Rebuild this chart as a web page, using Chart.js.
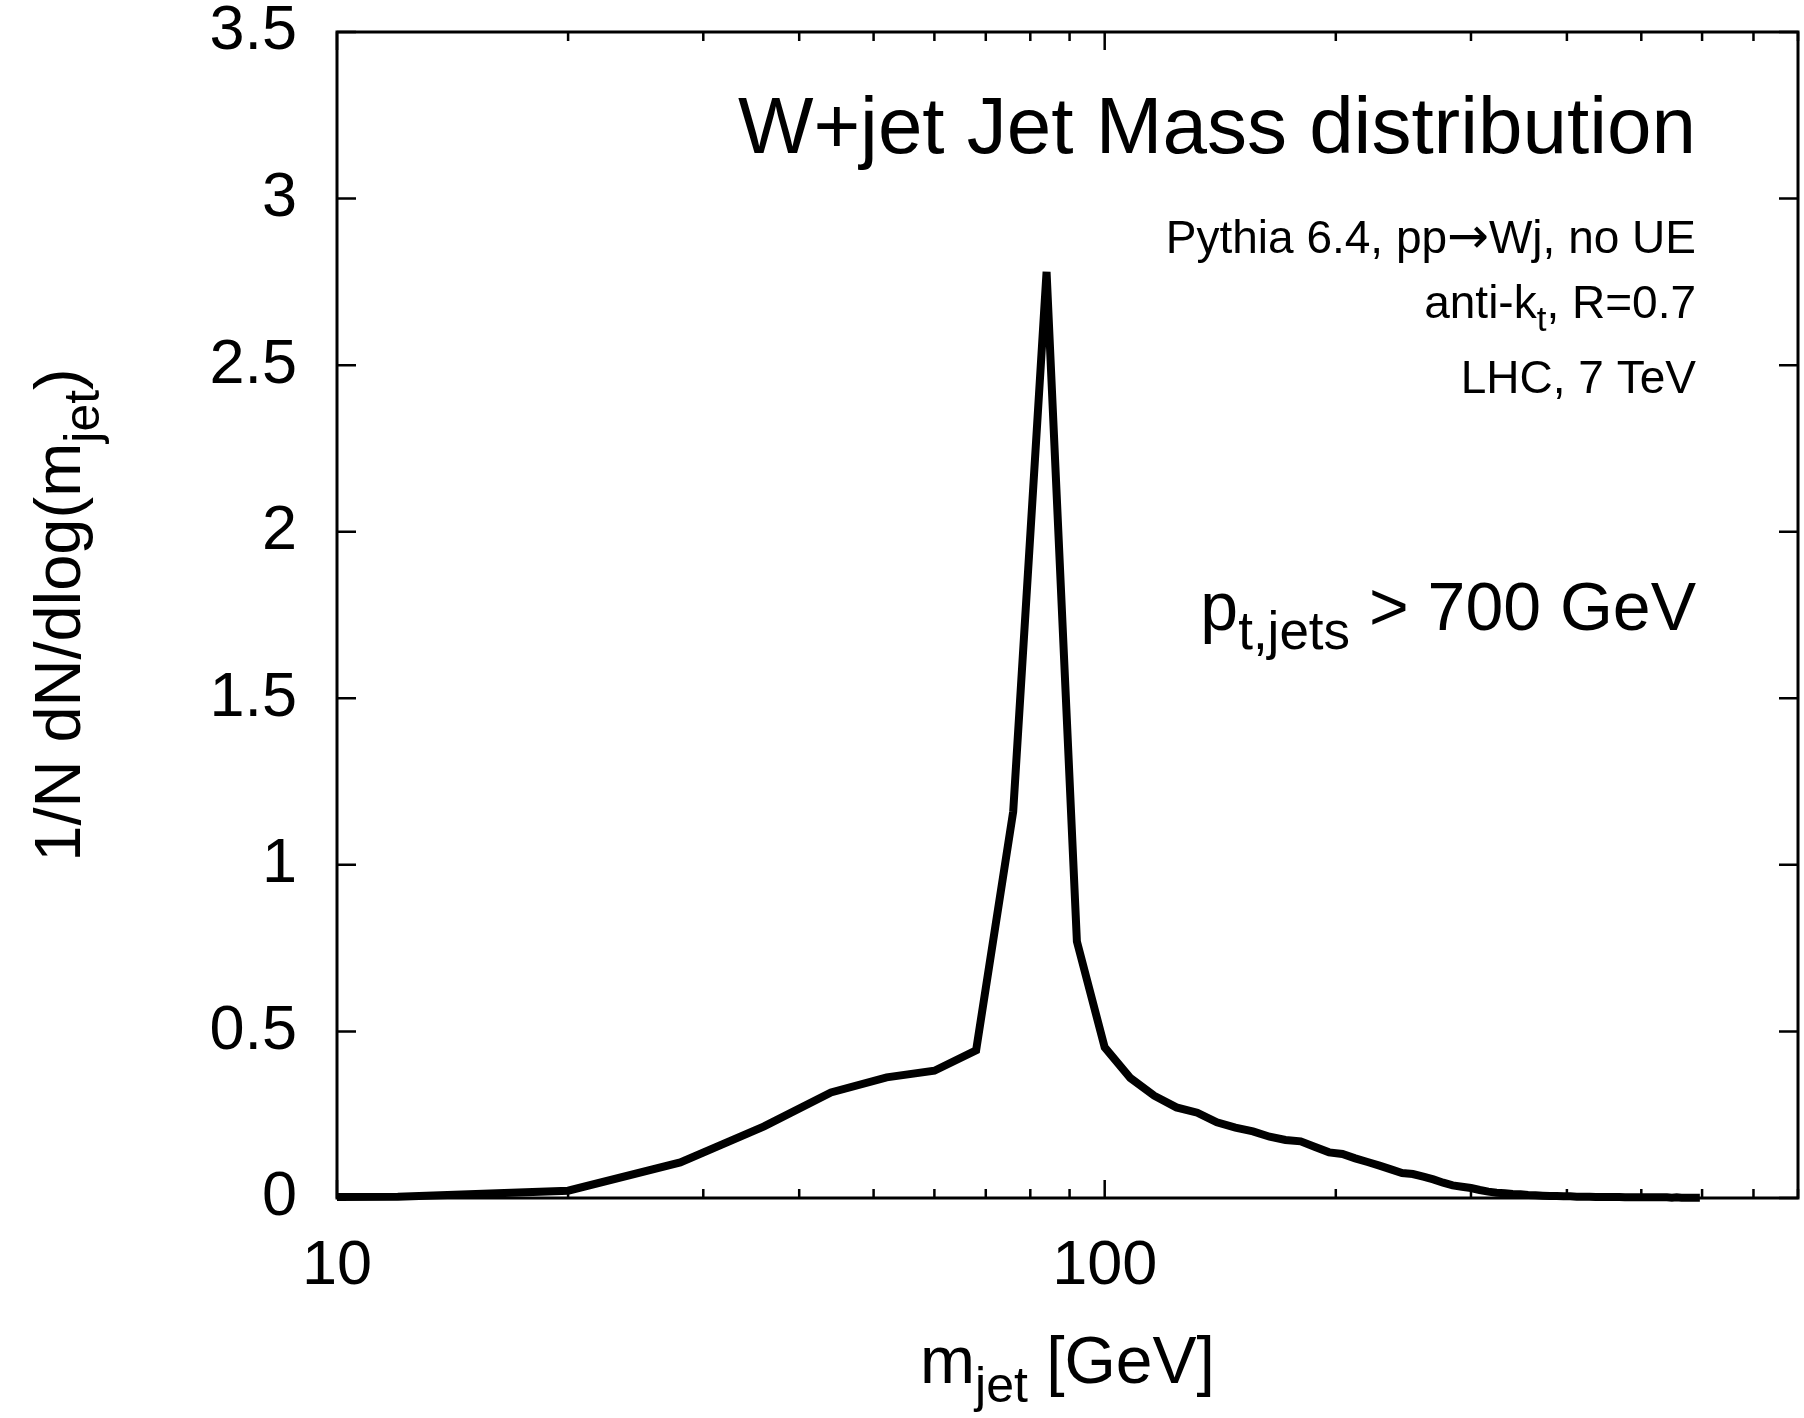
<!DOCTYPE html>
<html>
<head>
<meta charset="utf-8">
<title>W+jet Jet Mass distribution</title>
<script src="https://cdn.jsdelivr.net/npm/chart.js@4.4.1/dist/chart.umd.min.js"></script>
<style>
  html, body { margin: 0; padding: 0; background: #fff; }
  #massChart { display: block; }
</style>
</head>
<body>
<canvas id="massChart" width="1804" height="1418"></canvas>
<script>
// jet mass bin centres [GeV]
const massBins = [
    4, 12, 20, 28, 36, 44, 52, 60, 68, 76,
    84, 92, 100, 108, 116, 124, 132, 140, 148, 156,
    164, 172, 180, 188, 196, 204, 212, 220, 228, 236,
    244, 252, 260, 268, 276, 284, 292, 300, 308, 316,
    324, 332, 340, 348, 356, 364, 372, 380, 388, 396,
    404, 412, 420, 428, 436, 444, 452, 460, 468, 476,
    484, 492, 500, 508, 516, 524, 532, 540, 548, 556,
    564, 572, 580, 588, 596
];

// 1/N dN/dlog(m_jet)
const jetMassDist = [
    0.000, 0.004, 0.022, 0.107, 0.215, 0.317, 0.362, 0.382, 0.443, 1.160,
    2.780, 0.770, 0.452, 0.360, 0.307, 0.272, 0.256, 0.227, 0.211, 0.200,
    0.184, 0.174, 0.170, 0.153, 0.137, 0.132, 0.119, 0.108, 0.097, 0.086,
    0.075, 0.072, 0.064, 0.056, 0.046, 0.038, 0.034, 0.030, 0.024, 0.019,
    0.016, 0.014, 0.012, 0.011, 0.009, 0.008, 0.007, 0.006, 0.006, 0.005,
    0.005, 0.004, 0.004, 0.004, 0.003, 0.003, 0.003, 0.003, 0.003, 0.002,
    0.002, 0.002, 0.002, 0.002, 0.002, 0.002, 0.002, 0.002, 0.001, 0.002,
    0.001, 0.001, 0.001, 0.001, 0.001
];

const xTickValues = [10, 20, 30, 40, 50, 60, 70, 80, 90, 100, 200, 300, 400, 500, 600, 700, 800];
const xTickLabels = ['10', '', '', '', '', '', '', '', '', '100', '', '', '', '', '', '', ''];
const xMajorTicks = [10, 100];

const yTickValues = [0, 0.5, 1, 1.5, 2, 2.5, 3, 3.5];
const yTickLabels = ['0', '0.5', '1', '1.5', '2', '2.5', '3', '3.5'];

const FONT = '"Liberation Sans", Arial, Helvetica, sans-serif';
const ARROW_FONT = '"DejaVu Sans", sans-serif';

// draw a line of text made of runs (for subscripts), aligned around x
function drawRuns(ctx, runs, x, y, align) {
    let total = 0;
    runs.forEach(r => {
        ctx.font = r.size + 'px ' + (r.family || FONT);
        r.w = ctx.measureText(r.text).width;
        total += r.w;
    });
    let cx = align === 'right' ? x - total : (align === 'center' ? x - total / 2 : x);
    ctx.textAlign = 'left';
    ctx.textBaseline = 'alphabetic';
    runs.forEach(r => {
        ctx.font = r.size + 'px ' + (r.family || FONT);
        ctx.fillText(r.text, cx, y + (r.dy || 0));
        cx += r.w;
    });
}

const framePlugin = {
    id: 'frame',
    beforeDatasetsDraw(chart) {
        const { ctx, chartArea: a, scales } = chart;
        const xs = scales.x, ys = scales.y;
        ctx.save();
        ctx.strokeStyle = '#000';
        ctx.lineWidth = 3;
        ctx.strokeRect(a.left, a.top, a.right - a.left, a.bottom - a.top);

        // inward ticks on all four sides
        ctx.lineWidth = 2.5;
        ctx.beginPath();
        ys.ticks.forEach(t => {
            const py = ys.getPixelForValue(t.value);
            ctx.moveTo(a.left, py); ctx.lineTo(a.left + 19, py);
            ctx.moveTo(a.right, py); ctx.lineTo(a.right - 19, py);
        });
        xs.ticks.forEach(t => {
            const px = xs.getPixelForValue(t.value);
            const len = xMajorTicks.includes(t.value) ? 18 : 9;
            ctx.moveTo(px, a.bottom); ctx.lineTo(px, a.bottom - len);
            ctx.moveTo(px, a.top); ctx.lineTo(px, a.top + len);
        });
        ctx.stroke();
        ctx.restore();
    },
    afterDraw(chart) {
        const { ctx, chartArea: a } = chart;
        ctx.save();
        ctx.fillStyle = '#000';

        // axis titles
        drawRuns(ctx, [
            { text: 'm', size: 66 },
            { text: 'jet', size: 50, dy: 19 },
            { text: ' [GeV]', size: 66 }
        ], (a.left + a.right) / 2, 1383, 'center');

        ctx.save();
        ctx.translate(80, (a.top + a.bottom) / 2);
        ctx.rotate(-Math.PI / 2);
        drawRuns(ctx, [
            { text: '1/N dN/dlog(m', size: 65 },
            { text: 'jet', size: 50, dy: 19 },
            { text: ')', size: 65 }
        ], 0, 0, 'center');
        ctx.restore();

        // labels inside the frame
        const rx = 1696;
        drawRuns(ctx, [{ text: 'W+jet Jet Mass distribution', size: 80 }], rx, 153, 'right');
        drawRuns(ctx, [
            { text: 'Pythia 6.4, pp', size: 46 },
            { text: '\u2192', size: 50, family: ARROW_FONT },
            { text: 'Wj, no UE', size: 46 }
        ], rx, 253, 'right');
        drawRuns(ctx, [
            { text: 'anti-k', size: 46 },
            { text: 't', size: 35, dy: 13 },
            { text: ', R=0.7', size: 46 }
        ], rx, 318, 'right');
        drawRuns(ctx, [{ text: 'LHC, 7 TeV', size: 46 }], rx, 393, 'right');
        drawRuns(ctx, [
            { text: 'p', size: 68 },
            { text: 't,jets', size: 53, dy: 19 },
            { text: ' > 700 GeV', size: 68 }
        ], rx, 630, 'right');
        ctx.restore();
    }
};

new Chart(document.getElementById('massChart'), {
    type: 'line',
    data: {
        datasets: [{
            data: massBins.map((m, i) => ({ x: m, y: jetMassDist[i] })),
            borderColor: '#000',
            borderWidth: 8,
            pointRadius: 0,
            tension: 0,
            fill: false,
            clip: { left: 0, top: 8, right: 0, bottom: 8 }
        }]
    },
    options: {
        responsive: false,
        animation: false,
        events: [],
        layout: { padding: { top: 32, right: 6, left: 0, bottom: 0 } },
        plugins: {
            legend: { display: false },
            tooltip: { enabled: false }
        },
        scales: {
            x: {
                type: 'logarithmic',
                min: 10,
                max: 800,
                grid: { display: false, drawTicks: false },
                border: { display: false },
                afterBuildTicks: s => { s.ticks = xTickValues.map(v => ({ value: v })); },
                afterFit: s => { s.height = 220; s.paddingLeft = 0; s.paddingRight = 0; },
                ticks: {
                    autoSkip: false,
                    maxRotation: 0,
                    padding: 31,
                    color: '#000',
                    font: { family: FONT, size: 63 },
                    callback: v => {
                        const i = xTickValues.indexOf(v);
                        return i >= 0 ? xTickLabels[i] : '';
                    }
                }
            },
            y: {
                type: 'linear',
                min: 0,
                max: 3.5,
                grid: { display: false, drawTicks: false },
                border: { display: false },
                afterBuildTicks: s => { s.ticks = yTickValues.map(v => ({ value: v })); },
                afterFit: s => { s.width = 337; s.paddingTop = 0; s.paddingBottom = 0; },
                ticks: {
                    padding: 40,
                    color: '#000',
                    font: { family: FONT, size: 63 },
                    callback: v => {
                        const i = yTickValues.indexOf(v);
                        return i >= 0 ? yTickLabels[i] : '';
                    }
                }
            }
        }
    },
    plugins: [framePlugin]
});
</script>
</body>
</html>
